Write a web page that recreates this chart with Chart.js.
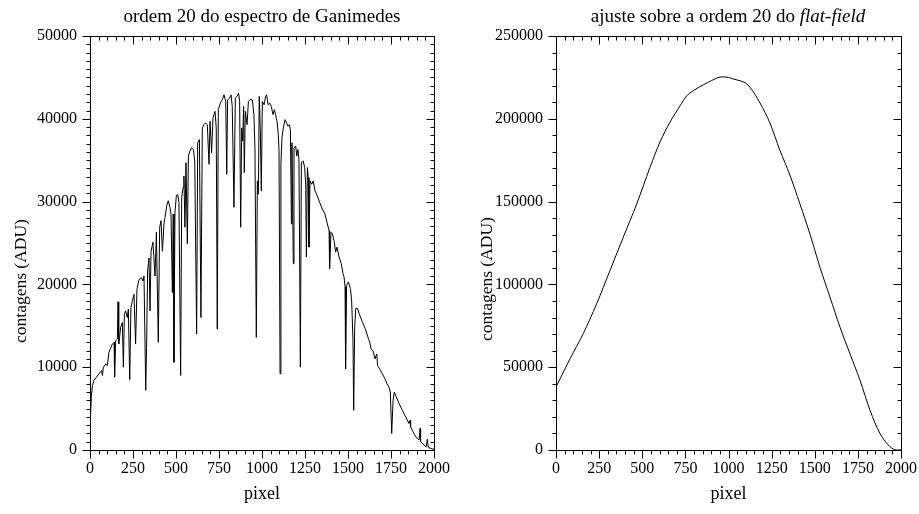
<!DOCTYPE html>
<html>
<head>
<meta charset="utf-8">
<script src="https://cdn.jsdelivr.net/npm/chart.js@4.4.0/dist/chart.umd.min.js"></script>
<style>
  body { margin: 0; background: #fff; width: 919px; height: 514px; position: relative; overflow: hidden;
         font-family: "Liberation Serif", "Times New Roman", serif; color: #000; }
  .panel { position: absolute; top: 0; height: 514px; }
  #leftPanel { left: 0; width: 460px; }
  #rightPanel { left: 460px; width: 459px; }
  .title { position: absolute; top: 6px; font-size: 19px; line-height: 19px; white-space: nowrap; transform: translateX(-50%); }
  .ylab { position: absolute; font-size: 17.5px; line-height: 18px; white-space: nowrap; transform: translate(-50%, -50%) rotate(-90deg); }
</style>
</head>
<body>
<div class="panel" id="leftPanel"><canvas id="leftChart" width="460" height="514"></canvas></div>
<div class="panel" id="rightPanel"><canvas id="rightChart" width="459" height="514"></canvas></div>
<div class="title" style="left:262px">ordem 20 do espectro de Ganimedes</div>
<div class="title" style="left:728px">ajuste sobre a ordem 20 do <i>flat-field</i></div>
<div class="ylab" style="left:20px; top:281px">contagens (ADU)</div>
<div class="ylab" style="left:486px; top:279px">contagens (ADU)</div>

<script>
// pixel ticks shared by both panels
const xTicks = [0, 250, 500, 750, 1000, 1250, 1500, 1750, 2000];
const leftYTicks = [0, 10000, 20000, 30000, 40000, 50000];
const rightYTicks = [0, 50000, 100000, 150000, 200000, 250000];

// order 20 of the Ganymede spectrum
const specPixel = [
  0, 2, 8, 14, 23, 52, 68, 72, 78, 91, 101, 110, 130, 140, 143, 149, 159, 163, 167, 172,
  178, 188, 194, 200, 207, 217, 223, 231, 238, 246, 256, 265, 273, 285, 300, 308, 314, 324, 329, 335,
  343, 349, 355, 366, 378, 386, 397, 405, 413, 421, 430, 436, 446, 455, 465, 471, 479, 484, 488, 494,
  502, 510, 517, 527, 533, 541, 546, 552, 558, 566, 572, 581, 591, 601, 609, 614, 620, 626, 636, 645,
  653, 663, 672, 682, 692, 698, 707, 715, 727, 734, 740, 746, 758, 769, 779, 789, 795, 800, 812, 820,
  827, 837, 845, 855, 864, 870, 876, 882, 888, 893, 897, 903, 913, 921, 930, 944, 953, 959, 967, 973,
  979, 984, 990, 996, 1002, 1012, 1021, 1027, 1035, 1045, 1054, 1064, 1072, 1079, 1087, 1095, 1099, 1105, 1110, 1116,
  1124, 1134, 1143, 1151, 1159, 1165, 1171, 1174, 1182, 1186, 1196, 1202, 1209, 1215, 1223, 1229, 1240, 1248, 1254, 1258,
  1264, 1269, 1273, 1279, 1289, 1298, 1308, 1322, 1335, 1351, 1366, 1380, 1390, 1393, 1401, 1409, 1419, 1428, 1436, 1448,
  1461, 1471, 1477, 1483, 1486, 1492, 1502, 1514, 1521, 1529, 1533, 1539, 1545, 1556, 1564, 1583, 1603, 1618, 1628, 1634,
  1645, 1657, 1667, 1672, 1684, 1700, 1715, 1727, 1738, 1746, 1754, 1762, 1769, 1781, 1797, 1816, 1835, 1855, 1861, 1864,
  1878, 1893, 1913, 1919, 1922, 1942, 1955, 1961, 1967, 1981, 1994, 2000
];
const specCounts = [
  6000, 3600, 6500, 7800, 8400, 9200, 9600, 9000, 10000, 10400, 10200, 11800, 12800, 13000, 8800, 13200, 13400, 17900, 12800, 13600,
  14800, 15400, 10000, 16400, 16800, 16000, 17000, 8500, 17200, 18000, 18800, 12800, 19400, 20600, 20800, 20400, 21000, 7200, 12400, 21600,
  23200, 16800, 24000, 25100, 21000, 26300, 13000, 26900, 27700, 24000, 27300, 28100, 29500, 30100, 29300, 28500, 19000, 28500, 10600, 28700,
  30700, 30900, 29900, 9000, 30500, 31700, 33100, 26900, 34700, 24900, 35500, 36100, 36500, 36300, 34900, 25300, 14000, 37100, 37500, 16000,
  38900, 39300, 39500, 39300, 34500, 39700, 35900, 40100, 40900, 38900, 14600, 41100, 41900, 42300, 42900, 42100, 33300, 42300, 42500, 42900,
  41500, 29300, 42500, 42700, 43100, 42100, 26900, 38900, 37300, 41500, 33500, 40900, 39300, 42100, 42300, 42300, 40500, 36500, 13600, 32500,
  30900, 42700, 38900, 31300, 42100, 41700, 42700, 42900, 41700, 41900, 41500, 40500, 41100, 40500, 39700, 38100, 36100, 9200, 34500, 37700,
  38900, 39900, 39500, 39100, 39300, 38700, 27300, 37100, 22500, 36500, 36700, 35500, 36300, 35100, 10000, 34700, 34900, 34100, 32100, 23300,
  34100, 32900, 24500, 32500, 32100, 32500, 31300, 30700, 29900, 29100, 28500, 27300, 26500, 21900, 26300, 26100, 25300, 23900, 24500, 23300,
  22500, 21300, 20900, 19700, 9800, 19900, 20300, 19500, 18100, 13300, 4800, 14900, 17100, 17100, 16500, 15500, 14500, 13500, 12900, 12200,
  12000, 11000, 11600, 10200, 9800, 9200, 8600, 8000, 7600, 7000, 2000, 6000, 7000, 6400, 5600, 4800, 4000, 3200, 3600, 2800,
  2200, 1600, 1200, 2600, 1000, 600, 400, 1300, 300, 200, 100, 100
];

// flat-field fit over order 20
const fitPixel = [
  0, 81, 158, 236, 313, 390, 468, 545, 603, 661, 719, 757, 796, 854, 900, 960, 1000, 1028, 1067, 1100,
  1125, 1183, 1240, 1298, 1356, 1414, 1472, 1530, 1588, 1646, 1704, 1762, 1820, 1878, 1936, 1975, 2000
];
const fitCounts = [
  38000, 55000, 70300, 88400, 108400, 128500, 148600, 170700, 186000, 198000, 207800, 213800, 217000, 220500, 223000, 225300, 225000, 224000, 223000, 221500,
  219000, 209500, 197500, 181000, 166000, 148600, 130500, 110400, 92400, 74300, 58200, 42200, 24100, 10000, 2000, 0, 0
];

Chart.defaults.font.family = '"Liberation Serif", "Times New Roman", serif';
Chart.defaults.color = "#000";

// box around the plot with minor/major ticks: outward on bottom/left, inward on top/right
const frameTicks = {
  id: "frameTicks",
  afterDraw(chart, args, opts) {
    const { ctx, chartArea: a, scales: { x, y } } = chart;
    const L = Math.round(a.left) + 0.5, R = Math.round(a.right) + 0.5;
    const T = Math.round(a.top) + 0.5, B = Math.round(a.bottom) + 0.5;
    ctx.save();
    ctx.strokeStyle = "#000";
    ctx.lineWidth = 1;
    ctx.strokeRect(L, T, R - L, B - T);
    ctx.beginPath();
    for (let v = x.min; v <= x.max + 1e-6; v += opts.xMinor) {
      const px = Math.round(x.getPixelForValue(v)) + 0.5;
      const len = v % opts.xMajor === 0 ? 8 : 4;
      ctx.moveTo(px, B); ctx.lineTo(px, B + len);
      ctx.moveTo(px, T); ctx.lineTo(px, T + len);
    }
    for (let v = y.min; v <= y.max + 1e-6; v += opts.yMinor) {
      const py = Math.round(y.getPixelForValue(v)) + 0.5;
      const len = v % opts.yMajor === 0 ? 8 : 4;
      ctx.moveTo(L, py); ctx.lineTo(L - len, py);
      ctx.moveTo(R, py); ctx.lineTo(R - len, py);
    }
    ctx.stroke();
    ctx.restore();
  }
};

function makePanel(canvasId, px, py, yTicks, padRight, yWidth, tickSteps, smooth) {
  const points = px.map((p, i) => ({ x: p, y: py[i] }));
  return new Chart(document.getElementById(canvasId), {
    type: "line",
    data: {
      datasets: [{
        data: points,
        borderColor: "#000",
        borderWidth: 1,
        pointRadius: 0,
        fill: false,
        tension: smooth ? 0.4 : 0,
        cubicInterpolationMode: smooth ? "monotone" : "default",
      }],
    },
    options: {
      responsive: false,
      animation: false,
      layout: { padding: { left: 0, right: padRight, top: 36, bottom: 0 } },
      plugins: { legend: { display: false }, tooltip: { enabled: false }, frameTicks: tickSteps },
      scales: {
        x: {
          type: "linear",
          min: xTicks[0],
          max: xTicks[xTicks.length - 1],
          afterBuildTicks: (scale) => { scale.ticks = xTicks.map((v) => ({ value: v })); },
          grid: { display: false, drawTicks: true, tickLength: 8 },
          border: { display: false },
          ticks: { autoSkip: false, maxRotation: 0, padding: 1, font: { size: 16 }, callback: (v) => String(v) },
          title: { display: true, text: "pixel", font: { size: 18 }, padding: { top: 0, bottom: 9 } },
          afterFit: (scale) => { scale.height = 64; },
        },
        y: {
          min: yTicks[0],
          max: yTicks[yTicks.length - 1],
          afterBuildTicks: (scale) => { scale.ticks = yTicks.map((v) => ({ value: v })); },
          grid: { display: false, drawTicks: true, tickLength: 8 },
          border: { display: false },
          ticks: { padding: 5, font: { size: 16 }, callback: (v) => String(v) },
          afterFit: (scale) => { scale.width = yWidth; },
        },
      },
    },
    plugins: [frameTicks],
  });
}

makePanel("leftChart", specPixel, specCounts, leftYTicks, 26, 90,
  { xMinor: 50, xMajor: 250, yMinor: 1000, yMajor: 10000 }, false);
makePanel("rightChart", fitPixel, fitCounts, rightYTicks, 18, 96,
  { xMinor: 50, xMajor: 250, yMinor: 10000, yMajor: 50000 }, true);
</script>
</body>
</html>
